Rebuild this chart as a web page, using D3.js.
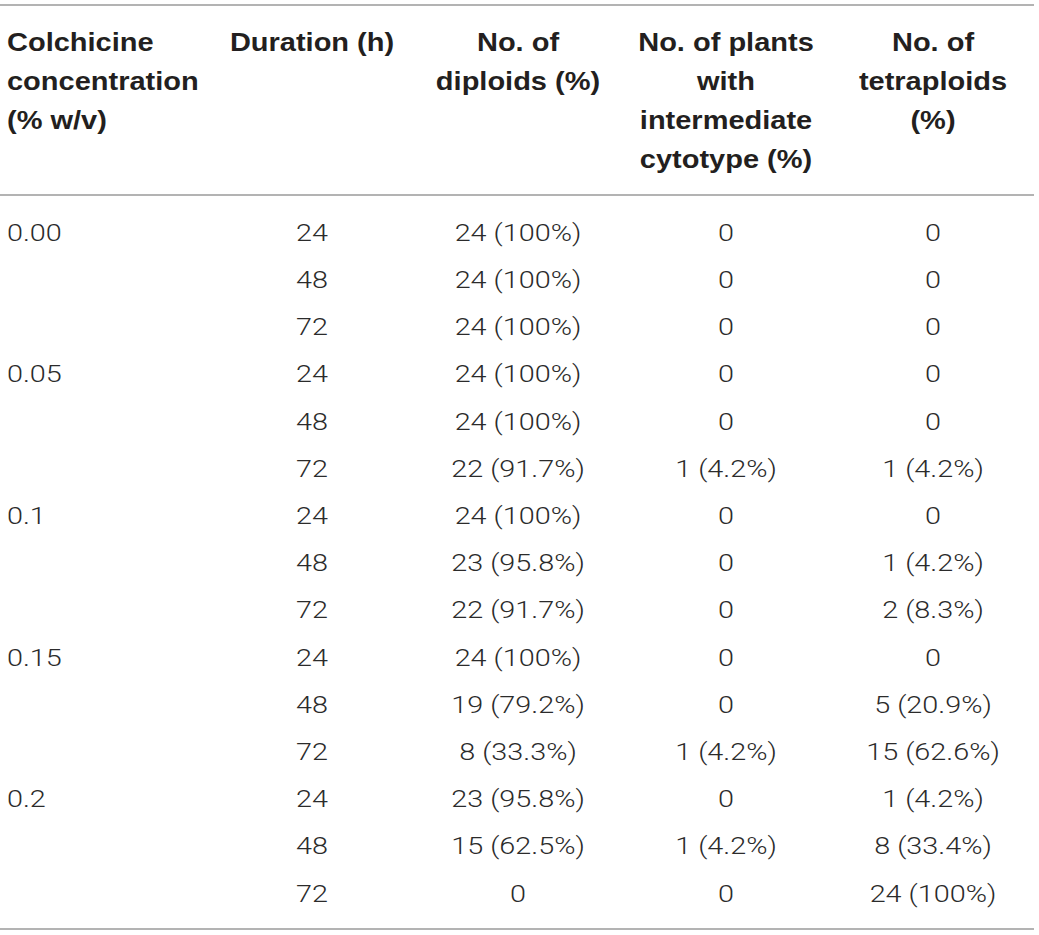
<!DOCTYPE html>
<html>
<head>
<meta charset="utf-8">
<script src="https://cdn.jsdelivr.net/npm/d3@7"></script>
<style>
  html, body { margin: 0; padding: 0; background: #fff; }
  svg { display: block; }
</style>
</head>
<body>
<svg id="table"></svg>
<script>
// table content
const headers = [
  ["Colchicine", "concentration", "(% w/v)"],
  ["Duration (h)"],
  ["No. of", "diploids (%)"],
  ["No. of plants", "with", "intermediate", "cytotype (%)"],
  ["No. of", "tetraploids", "(%)"]
];
const concentrations = ["0.00", "0.05", "0.1", "0.15", "0.2"];
const durations = ["24", "48", "72"];
const diploids = [
  "24 (100%)", "24 (100%)", "24 (100%)",
  "24 (100%)", "24 (100%)", "22 (91.7%)",
  "24 (100%)", "23 (95.8%)", "22 (91.7%)",
  "24 (100%)", "19 (79.2%)", "8 (33.3%)",
  "23 (95.8%)", "15 (62.5%)", "0"
];
const intermediate = [
  "0", "0", "0",
  "0", "0", "1 (4.2%)",
  "0", "0", "0",
  "0", "0", "1 (4.2%)",
  "0", "1 (4.2%)", "0"
];
const tetraploids = [
  "0", "0", "0",
  "0", "0", "1 (4.2%)",
  "0", "1 (4.2%)", "2 (8.3%)",
  "0", "5 (20.9%)", "15 (62.6%)",
  "1 (4.2%)", "8 (33.4%)", "24 (100%)"
];

const width = 1039, height = 935;
const svg = d3.select("#table")
  .attr("width", width)
  .attr("height", height);

// build rows from the arrays
const rows = [];
concentrations.forEach((c, ci) => {
  durations.forEach((d, di) => {
    const i = ci * 3 + di;
    rows.push([di === 0 ? c : "", d, diploids[i], intermediate[i], tetraploids[i]]);
  });
});

const colX = [7, 312, 518, 726, 933];
const colAnchor = ["start", "middle", "middle", "middle", "middle"];
// the typeset glyphs are a bit wider than the installed fonts
const headStretch = 1.16, bodyStretch = 1.2;

const y = d3.scaleLinear()
  .domain([0, rows.length - 1])
  .range([232, 893]);

const ruleColor = "#9a9a9a";
const rules = [5, 195, 929];
svg.selectAll("line.rule")
  .data(rules)
  .join("line")
  .attr("class", "rule")
  .attr("x1", 0)
  .attr("x2", 1034)
  .attr("y1", d => d)
  .attr("y2", d => d)
  .attr("stroke", ruleColor)
  .attr("stroke-width", 1.6);

// header
const head = svg.append("g")
  .style("font-family", "'Liberation Sans', Arial, sans-serif")
  .style("font-weight", "bold")
  .style("font-size", "25px")
  .attr("fill", "#231f20");

head.selectAll("g")
  .data(headers)
  .join("g")
  .each(function(lines, i) {
    d3.select(this).selectAll("text")
      .data(lines)
      .join("text")
      .attr("transform", (t, j) => `translate(${colX[i]},${51 + j * 39})scale(${headStretch},1)`)
      .attr("text-anchor", colAnchor[i])
      .text(t => t);
  });

// body
const body = svg.append("g")
  .style("font-family", "Roboto, 'Liberation Sans', sans-serif")
  .style("font-weight", "300")
  .style("font-size", "24px")
  .attr("fill", "#2b2b2b");

const row = body.selectAll("g")
  .data(rows)
  .join("g")
  .attr("transform", (d, i) => `translate(0,${y(i)})`);

row.selectAll("text")
  .data(d => d)
  .join("text")
  .attr("transform", (d, i) => `translate(${colX[i]},0)scale(${bodyStretch},1)`)
  .attr("dy", "0.36em")
  .attr("text-anchor", (d, i) => colAnchor[i])
  .text(d => d);
</script>
</body>
</html>
